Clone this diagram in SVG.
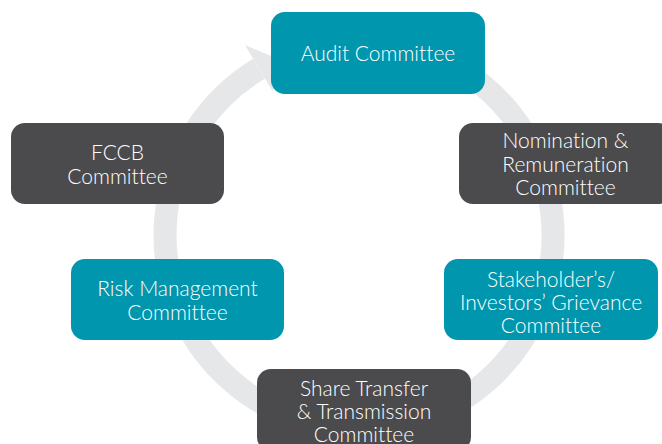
<svg xmlns="http://www.w3.org/2000/svg" width="662" height="444" viewBox="0 0 662 444">
<style>
.teal{fill:#0096AE}
.dark{fill:#4B4B4D}
.t{font-family:Lato,"Open Sans","Liberation Sans",sans-serif;font-weight:300;font-size:21px;fill:#FFFFFF;text-anchor:middle;font-variant-ligatures:none}
</style>
<rect width="662" height="444" fill="#FFFFFF"/>
<g id="connectors">
<path d="M 375.9 41.7 A 194 194 0 1 1 259.1 68.7" fill="none" stroke="#E6E7E8" stroke-width="23"/>
<polygon points="245,45 283,61 272.5,91" fill="#E6E7E8"/>
</g>
<g id="audit">
<rect class="teal" x="271" y="12" width="214" height="82" rx="14"/>
<text class="t" x="378" y="61">Audit Committee</text>
</g>
<g id="nomination">
<rect class="dark" x="459" y="123" width="213" height="81" rx="14"/>
<text class="t" x="565.5" y="147.5">Nomination &amp;</text>
<text class="t" x="565.5" y="171.5">Remuneration</text>
<text class="t" x="565.5" y="195">Committee</text>
</g>
<g id="stakeholder">
<rect class="teal" x="444" y="259" width="214" height="81" rx="14"/>
<text class="t" x="551" y="286.5">Stakeholder’s/</text>
<text class="t" x="551" y="310">Investors’ Grievance</text>
<text class="t" x="551" y="333">Committee</text>
</g>
<g id="share">
<rect class="dark" x="257" y="369" width="214" height="82" rx="14"/>
<text class="t" x="364" y="395.5">Share Transfer</text>
<text class="t" x="364" y="419">&amp; Transmission</text>
<text class="t" x="364" y="441.5">Committee</text>
</g>
<g id="risk">
<rect class="teal" x="71" y="259" width="213" height="81" rx="14"/>
<text class="t" x="177.5" y="296">Risk Management</text>
<text class="t" x="177.5" y="320">Committee</text>
</g>
<g id="fccb">
<rect class="dark" x="11" y="123" width="213" height="81" rx="14"/>
<text class="t" x="117.5" y="160">FCCB</text>
<text class="t" x="117.5" y="184">Committee</text>
</g>
</svg>
